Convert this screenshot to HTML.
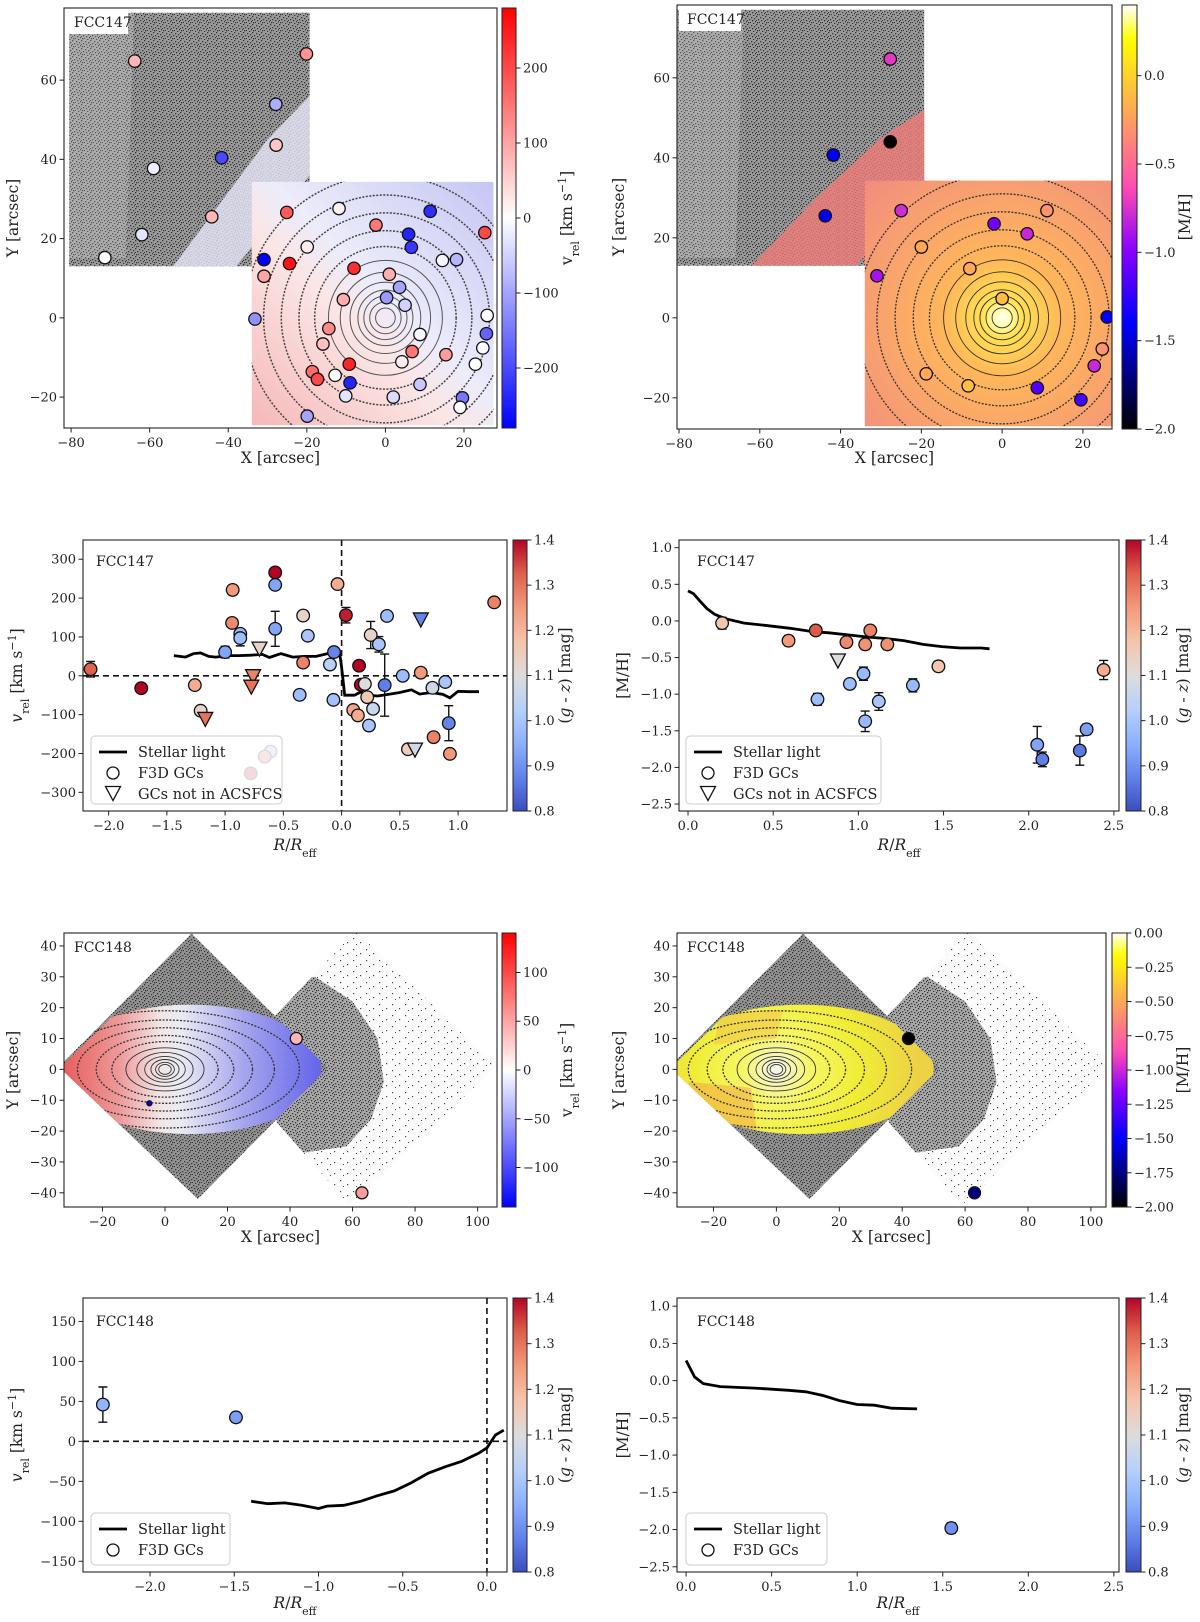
<!DOCTYPE html>
<html><head><meta charset="utf-8"><title>FCC147 / FCC148 GC kinematics and metallicity</title>
<style>
html,body{margin:0;padding:0;background:#fff;}
svg{display:block;font-family:"DejaVu Serif","Liberation Serif",serif;}
</style></head>
<body>
<svg id="fig" xmlns="http://www.w3.org/2000/svg" width="1200" height="1622" viewBox="0 0 1200 1622">
<defs>
<pattern id="dots" width="9" height="8" patternUnits="userSpaceOnUse">
<rect x="0" y="0" width="1.3" height="1.3" fill="#333"/><rect x="4" y="1" width="1.3" height="1.3" fill="#333"/>
<rect x="7" y="2" width="1.3" height="1.3" fill="#333"/><rect x="2" y="3" width="1.3" height="1.3" fill="#333"/>
<rect x="5" y="4" width="1.3" height="1.3" fill="#333"/><rect x="8" y="5" width="1" height="1.3" fill="#333"/>
<rect x="1" y="6" width="1.3" height="1.3" fill="#333"/><rect x="6" y="7" width="1.3" height="1" fill="#333"/>
<rect x="3" y="6" width="1" height="1" fill="#333"/><rect x="0" y="4" width="1" height="1" fill="#333"/>
</pattern>
<pattern id="sparse" width="13" height="11" patternUnits="userSpaceOnUse">
<rect x="2" y="3" width="1.2" height="1.2" fill="#444"/><rect x="9" y="7" width="1.2" height="1.2" fill="#444"/>
<rect x="5" y="9" width="1" height="1" fill="#444"/>
</pattern>
</defs>
</svg>
<script>
// ---------------- data ----------------
// Panel 1: FCC147 velocity map GCs
const p1X=[-63.8,-20.1,-27.9,-27.8,-41.7,-59,-44.2,-62,-71.4,-25.1,-11.8,11.4,-2.4,25.3,5.9,6.6,-19.9,-30.9,-24.4,14.5,18.1,-30.9,-8,1,3.6,0.3,-10.7,5,-33.2,25.9,-14.4,25.7,8.8,-15.9,24.8,6.8,15.4,-9.2,4.2,-18.6,-17.3,-12.8,-9,8.8,22.9,-10.1,2,19.6,19,-19.9];
const p1Y=[64.8,66.6,53.9,43.6,40.4,37.7,25.5,21,15.2,26.6,27.6,26.9,23.4,21.5,21.1,17.8,17.9,14.7,13.7,14.5,14.7,10.5,12.5,11,7.7,5.1,4.6,3.2,-0.3,0.6,-2.7,-4,-4.2,-6.6,-7.6,-8.5,-9.3,-11.7,-11.1,-13.6,-15.5,-14.5,-16.4,-16.8,-11.7,-19.7,-20,-20.2,-22.6,-24.8];
const p1V=[80,120,-90,60,-200,-20,80,-30,5,180,15,-230,150,200,-240,-220,20,-280,260,-10,-80,100,230,90,-100,-110,90,-50,-120,0,130,-170,-10,70,-5,150,110,240,20,160,200,0,-240,-60,0,-30,-40,-150,0,-100];
const p1Ticks=[-200,-100,0,100,200];
// Panel 2: FCC147 metallicity map GCs
const p2X=[-27.7,-27.7,-41.8,-43.8,-25,-2,6.2,11.1,-20,-31,-8,0,26,24.8,22.8,-18.8,-8.4,8.7,19.5];
const p2Y=[64.7,44,40.7,25.5,26.8,23.5,21,26.8,17.7,10.5,12.3,4.8,0.2,-7.8,-12,-14,-17,-17.5,-20.5];
const p2M=[-0.72,-2.0,-1.4,-1.45,-0.78,-1.05,-0.8,-0.3,-0.2,-0.9,-0.2,-0.1,-1.4,-0.3,-0.8,-0.2,-0.1,-1.15,-1.2];
const p2Ticks=[-2.0,-1.5,-1.0,-0.5,0.0];
// Panel 3: FCC147 v_rel vs R
const p3R=[-2.155,-1.72,-1.26,-1.21,-0.935,-0.94,-0.87,-0.87,-1.0,-0.57,-0.57,-0.57,-0.61,-0.66,-0.78,-0.33,-0.29,-0.33,-0.36,-0.065,-0.10,-0.07,-0.035,0.037,0.15,0.165,0.20,0.25,0.32,0.37,0.39,0.22,0.27,0.235,0.10,0.14,0.525,0.68,0.78,0.89,0.92,0.79,0.93,0.57,1.31];
const p3V=[17,-32,-24,-90,221,136,108,97,61,266,234,121,-195,-208,-251,155,103,34,-49,61,29,-62,236,156,26,-23,-21,105,81,-24,154,-55,-85,-128,-88,-102,0,8,-31,-16,-122,-158,-201,-189,189];
const p3Err=[20,0,0,12,12,0,0,20,15,0,10,45,0,0,12,0,0,0,12,0,0,0,0,20,0,0,0,35,20,80,0,0,0,0,0,0,0,0,12,0,45,8,0,0,8];
const p3GZ=[1.32,1.4,1.22,1.13,1.25,1.27,0.98,0.98,0.93,1.4,0.93,0.93,0.92,1.33,1.4,1.13,1.0,1.28,0.98,0.88,1.03,0.99,1.22,1.38,1.4,1.4,1.1,1.13,1.0,0.87,0.98,1.16,1.06,1.0,1.23,1.22,0.98,1.25,1.07,1.0,0.88,1.28,1.25,1.15,1.28];
const p3TriR=[-0.705,-0.76,-0.775,-1.17,0.68,0.63];
const p3TriV=[70,-1,-28,-111,145,-190];
const p3TriGZ=[1.13,1.28,1.3,1.3,0.88,1.08];
const p3LineR=[-1.44,-1.34,-1.27,-1.21,-1.14,-1.08,-0.98,-0.88,-0.78,-0.68,-0.62,-0.52,-0.42,-0.32,-0.22,-0.12,-0.055,-0.016,0.0,0.027,0.11,0.17,0.21,0.31,0.40,0.50,0.60,0.67,0.77,0.87,0.93,1.0,1.10,1.18];
const p3LineV=[52,48,57,59,50,48,52,52,53,55,47,57,48,50,50,57,61,57,22,-50,-50,-41,-50,-52,-48,-43,-36,-47,-43,-48,-57,-40,-41,-41];
const p3XTicks=[-2.0,-1.5,-1.0,-0.5,0.0,0.5,1.0];
const p3YTicks=[-300,-200,-100,0,100,200,300];
// Panel 4: FCC147 [M/H] vs R
const p4R=[0.20,0.59,0.75,0.93,1.07,1.04,1.17,1.47,0.76,0.95,1.03,1.04,1.12,1.32,2.05,2.08,2.30,2.34,2.44];
const p4M=[-0.03,-0.27,-0.13,-0.29,-0.13,-0.32,-0.32,-0.62,-1.07,-0.86,-0.72,-1.37,-1.10,-0.88,-1.69,-1.89,-1.77,-1.48,-0.67];
const p4Err=[0.08,0.07,0.05,0.04,0,0.07,0.07,0.07,0.08,0,0.09,0.14,0.12,0.09,0.25,0.1,0.2,0.07,0.13];
const p4GZ=[1.17,1.25,1.33,1.27,1.28,1.26,1.26,1.17,0.98,0.98,0.97,0.97,1.0,0.97,0.93,0.87,0.86,0.92,1.22];
const p4TriR=[0.88];
const p4TriM=[-0.54];
const p4TriGZ=[1.1];
const p4LineR=[0,0.033,0.067,0.11,0.156,0.22,0.33,0.45,0.60,0.74,0.82,0.94,1.05,1.16,1.27,1.38,1.49,1.60,1.72,1.77];
const p4LineM=[0.41,0.37,0.28,0.17,0.09,0.03,-0.03,-0.06,-0.10,-0.15,-0.16,-0.19,-0.22,-0.24,-0.27,-0.32,-0.35,-0.37,-0.37,-0.38];
const p4XTicks=[0.0,0.5,1.0,1.5,2.0,2.5];
const p4YTicks=[-2.5,-2.0,-1.5,-1.0,-0.5,0.0,0.5,1.0];
const gzTicks=[0.8,0.9,1.0,1.1,1.2,1.3,1.4];
// Panel 5/6: FCC148 maps
const p5X=[42,63,-5];
const p5Y=[10,-40,-11];
const p5V=[40,55,-150];
const p5R=[6,6,2.5];
const p6X=[42,63];
const p6Y=[10,-40];
const p6M=[-2.0,-1.75];
const p5Ticks=[-100,-50,0,50,100];
const p6Ticks=[-2.0,-1.75,-1.5,-1.25,-1.0,-0.75,-0.5,-0.25,0.0];
// Panel 7: FCC148 v_rel vs R
const p7R=[-2.28,-1.49];
const p7V=[46,30];
const p7Err=[22,6];
const p7GZ=[0.96,0.92];
const p7LineR=[-1.4,-1.3,-1.2,-1.1,-1.0,-0.95,-0.85,-0.75,-0.65,-0.55,-0.45,-0.35,-0.25,-0.15,-0.05,0.0,0.05,0.1];
const p7LineV=[-75,-78,-77,-80,-84,-81,-80,-75,-68,-62,-52,-40,-32,-25,-15,-8,8,14];
const p7XTicks=[-2.0,-1.5,-1.0,-0.5,0.0];
const p7YTicks=[-150,-100,-50,0,50,100,150];
// Panel 8: FCC148 [M/H] vs R
const p8R=[1.55];
const p8M=[-1.98];
const p8Err=[0.07];
const p8GZ=[0.9];
const p8LineR=[0,0.05,0.1,0.2,0.4,0.6,0.7,0.8,0.9,1.0,1.1,1.2,1.35];
const p8LineM=[0.27,0.05,-0.04,-0.08,-0.10,-0.13,-0.15,-0.20,-0.27,-0.32,-0.33,-0.37,-0.38];

// ---------------- helpers ----------------
const NS='http://www.w3.org/2000/svg';
const svg=document.getElementById('fig');
const defs=svg.querySelector('defs');
function el(tag,attrs,parent){const e=document.createElementNS(NS,tag);for(const k in attrs)e.setAttribute(k,attrs[k]);(parent||svg).appendChild(e);return e;}
function nm(e,name,inter){


return e;}
function cl(t){return Math.max(0,Math.min(1,t));}
function rgb(r,g,b){return `rgb(${Math.round(r)},${Math.round(g)},${Math.round(b)})`;}
function bwr(v,vmax){const t=cl((v+vmax)/(2*vmax));return t<0.5?rgb(510*t,510*t,255):rgb(255,510*(1-t),510*(1-t));}
function gnu2(v,vmin,vmax){const x=cl((v-vmin)/(vmax-vmin));const r=cl(x/0.32-0.78125),g=cl(2*x-0.84);let b=x<0.25?4*x:(x<0.92?-2*x+1.84:x/0.08-11.5);return rgb(255*r,255*g,255*cl(b));}
const CW=[[0,59,76,192],[0.125,98,130,234],[0.25,141,176,254],[0.375,184,208,249],[0.5,221,220,220],[0.625,245,196,173],[0.75,244,154,123],[0.875,222,96,77],[1,180,4,38]];
function cw(v){const t=cl((v-0.8)/0.6);for(let i=1;i<CW.length;i++){if(t<=CW[i][0]){const a=CW[i-1],b=CW[i],f=(t-a[0])/(b[0]-a[0]);return rgb(a[1]+f*(b[1]-a[1]),a[2]+f*(b[2]-a[2]),a[3]+f*(b[3]-a[3]));}}return rgb(180,4,38);}
function fmt(v,d){return (v<0?'\u2212':'')+Math.abs(v).toFixed(d);}
function panel(p){
p.sx=v=>p.bx+(v-p.xr[0])/(p.xr[1]-p.xr[0])*p.bw;
p.sy=v=>p.by+p.bh-(v-p.yr[0])/(p.yr[1]-p.yr[0])*p.bh;
const cp=el('clipPath',{id:'clip'+p.id},defs);
el('rect',{x:p.bx,y:p.by,width:p.bw,height:p.bh},cp);
p.g=el('g',{'clip-path':`url(#clip${p.id})`});
nm(p.g,p.name+'-plot-area',false);
return p;}
function txt(x,y,s,o,parent){const t=el('text',Object.assign({x:x,y:y,'font-size':13,fill:'#222'},o||{}),parent);t.innerHTML=s;return t;}
function axes(p,xt,xd,yt,yd,xlab,ylab,xly,ylx){
const fr=el('rect',{x:p.bx,y:p.by,width:p.bw,height:p.bh,fill:'none',stroke:'#222','stroke-width':1.1});
nm(fr,p.name+'-frame',false);
const gx=el('g',{});
nm(gx,p.name+'-x-axis',false);
xt.forEach(v=>{const X=p.sx(v);el('line',{x1:X,x2:X,y1:p.by+p.bh,y2:p.by+p.bh+4.5,stroke:'#222'},gx);
const t=txt(X,p.by+p.bh+19,fmt(v,xd),{'text-anchor':'middle'},gx);
nm(t,'x-tick-label',false);});
const gy=el('g',{});
nm(gy,p.name+'-y-axis',false);
yt.forEach(v=>{const Y=p.sy(v);el('line',{x1:p.bx-4.5,x2:p.bx,y1:Y,y2:Y,stroke:'#222'},gy);
const t=txt(p.bx-7,Y+4.5,fmt(v,yd),{'text-anchor':'end'},gy);
nm(t,'y-tick-label',false);});
const xl=txt(p.bx+p.bw/2,xly,xlab,{'text-anchor':'middle','font-size':15.5});
nm(xl,'x-axis-title',false);
const yl=txt(ylx,p.by+p.bh/2,ylab,{'text-anchor':'middle','font-size':15.5,transform:`rotate(-90 ${ylx} ${p.by+p.bh/2})`});
nm(yl,'y-axis-title',false);}
let gid=0;
function cbar(name,x,y,w,h,fn,vmin,vmax,ticks,dec,label,lx){
const gr=el('linearGradient',{id:'cg'+(++gid),x1:0,y1:1,x2:0,y2:0},defs);
for(let i=0;i<=40;i++){el('stop',{offset:i/40,'stop-color':fn(vmin+(vmax-vmin)*i/40)},gr);}
const g=el('g',{});
nm(g,name,false);
el('rect',{x:x,y:y,width:w,height:h,fill:`url(#cg${gid})`,stroke:'#222','stroke-width':1},g);
ticks.forEach(v=>{const Y=y+h-(v-vmin)/(vmax-vmin)*h;el('line',{x1:x+w,x2:x+w+4.5,y1:Y,y2:Y,stroke:'#222'},g);
const t=txt(x+w+7,Y+4.5,fmt(v,dec),{},g);
nm(t,'colorbar-tick-label',false);});
const yc=y+h/2;
const l=txt(lx,yc,label,{'text-anchor':'middle','font-size':15.5,transform:`rotate(-90 ${lx} ${yc})`},g);
nm(l,'colorbar-title',false);}
function circ(g,x,y,r,fill,name){const c=el('circle',{cx:x,cy:y,r:r,fill:fill,stroke:'#111','stroke-width':1.3},g);
nm(c,name,false);return c;}
function tri(g,x,y,fill,name){const t=el('polygon',{points:`${x-7.5},${y-6.5} ${x+7.5},${y-6.5} ${x},${y+7.5}`,fill:fill,stroke:'#111','stroke-width':1.3},g);
nm(t,name,false);return t;}
function errbar(g,x,y1,y2){const e=el('path',{d:`M${x},${y1}V${y2}M${x-4.5},${y1}h9M${x-4.5},${y2}h9`,stroke:'#111','stroke-width':1.4,fill:'none'},g);
nm(e,'error-bar',false);}
function poly(p,xs,ys){return xs.map((x,i)=>`${i?'L':'M'}${p.sx(x).toFixed(1)},${p.sy(ys[i]).toFixed(1)}`).join('')+'Z';}
function path(p,xs,ys){return xs.map((x,i)=>`${i?'L':'M'}${p.sx(x).toFixed(1)},${p.sy(ys[i]).toFixed(1)}`).join('');}
function labelBox(x,y,w,s,name){const g=el('g',{});
nm(g,name,false);
el('rect',{x:x,y:y,width:w,height:24,fill:'#fff'},g);txt(x+8,y+17,s,{'font-size':14},g);}
function legend(x,y,w,h,tri3){const g=el('g',{});
nm(g,'legend',false);
el('rect',{x:x,y:y,width:w,height:h,rx:4,fill:'#fff','fill-opacity':0.85,stroke:'#ccc'},g);
const e1=el('line',{x1:x+8,x2:x+36,y1:y+16,y2:y+16,stroke:'#000','stroke-width':2.8},g);
nm(e1,'legend-entry-stellar-light',false);
txt(x+47,y+21,'Stellar light',{'font-size':14.5},g);
el('circle',{cx:x+22,cy:y+37,r:6,fill:'#fff',stroke:'#111','stroke-width':1.3},g);
txt(x+47,y+42,'F3D GCs',{'font-size':14.5},g);
if(tri3){tri(g,x+22,y+57,'#fff','legend-entry-triangle');txt(x+47,y+63,'GCs not in ACSFCS',{'font-size':14.5},g);}}
const vrelLab='v<tspan baseline-shift="sub" font-size="11">rel</tspan> [km s<tspan baseline-shift="super" font-size="11">\u22121</tspan>]';
const vrelLabI='<tspan font-style="italic">v</tspan><tspan baseline-shift="sub" font-size="11">rel</tspan> [km s<tspan baseline-shift="super" font-size="11">\u22121</tspan>]';
const gzLab='(<tspan font-style="italic">g</tspan> - <tspan font-style="italic">z</tspan>) [mag]';
const rLab='<tspan font-style="italic">R</tspan>/<tspan font-style="italic">R</tspan><tspan baseline-shift="sub" font-size="11">eff</tspan>';
function blockClip(p){const c=el('clipPath',{id:'blk'+p.id},defs);el('path',{d:poly(p,[-34,27.5,27.5,-34],[-27.1,-27.1,34.3,34.3])},c);return el('g',{'clip-path':`url(#blk${p.id})`},p.g);}

// ---------------- Panel 1: FCC147 velocity map ----------------
const P1=panel({id:1,name:'fcc147-velocity-map',bx:64,by:8,bw:433,bh:420,xr:[-81.8,28.4],yr:[-27.8,78.2]});
(function(){const p=P1,g=p.g;
const up=el('path',{d:poly(p,[-80.5,-19.3,-19.3,-80.5],[13,13,77,77]),fill:'#9a9a9a'},g);nm(up,'stellar-density-region',false);
el('path',{d:poly(p,[-80.5,-19.3,-19.3,-80.5],[13,13,77,77]),fill:'url(#dots)'},g);
el('path',{d:poly(p,[-80.5,-66,-64,-80.5],[15,15,77,77]),fill:'#fff','fill-opacity':0.18},g);
el('path',{d:poly(p,[-54,-38,-19.3,-19.3,-30],[13,13,36,56,45]),fill:'#e6e6f8','fill-opacity':0.8},g);
const gr=el('linearGradient',{id:'vf1',gradientUnits:'userSpaceOnUse',x1:p.sx(-34),y1:p.sy(-27),x2:p.sx(27),y2:p.sy(34)},defs);
[[0,'#f6b8b8'],[0.42,'#fbe6e6'],[0.55,'#ececfb'],[1,'#c6c6f4']].forEach(s=>el('stop',{offset:s[0],'stop-color':s[1]},gr));
const lf=el('path',{d:poly(p,[-34,27.5,27.5,-34],[-27.1,-27.1,34.3,34.3]),fill:'url(#vf1)'},g);nm(lf,'velocity-field',false);
const bg=blockClip(p);
[2.5,4,5.5,7,9,11.5,14.5,18,22,26.5,31,36].forEach((r,i)=>{const c=el('ellipse',{cx:p.sx(0),cy:p.sy(0),rx:r*p.bw/110.2,ry:r*p.bh/106,fill:'none',stroke:i<7?'#555':'#444','stroke-width':i<7?1:1.5,'stroke-dasharray':i<7?'none':'2 1.5'},bg);nm(c,'isophote-contour',false);});
p1X.forEach((x,i)=>circ(g,p.sx(x),p.sy(p1Y[i]),6.2,bwr(p1V[i],280),'gc-marker'));
})();
labelBox(66,10,62,'FCC147','galaxy-label');
axes(P1,[-80,-60,-40,-20,0,20],0,[-20,0,20,40,60],0,'X [arcsec]','Y [arcsec]',463,18);
cbar('velocity-colorbar',502,8,14,420,v=>bwr(v,280),-280,280,p1Ticks,0,vrelLab,572);

// ---------------- Panel 2: FCC147 metallicity map ----------------
const P2=panel({id:2,name:'fcc147-metallicity-map',bx:677,by:5,bw:435,bh:424,xr:[-80.5,27.2],yr:[-27.8,78.2]});
(function(){const p=P2,g=p.g;
const up=el('path',{d:poly(p,[-80.5,-19.3,-19.3,-80.5],[13,13,77,77]),fill:'#9a9a9a'},g);nm(up,'stellar-density-region',false);
el('path',{d:poly(p,[-80.5,-19.3,-19.3,-80.5],[13,13,77,77]),fill:'url(#dots)'},g);
el('path',{d:poly(p,[-80.5,-66,-64,-80.5],[15,15,77,77]),fill:'#fff','fill-opacity':0.18},g);
el('path',{d:poly(p,[-62,-36,-19.3,-19.3,-30,-46],[13,13,34,52,45,30]),fill:'#f07c78','fill-opacity':0.8},g);
const gr=el('radialGradient',{id:'mf2',gradientUnits:'userSpaceOnUse',cx:p.sx(0),cy:p.sy(0),r:200},defs);
[[0,'#ffffff'],[0.04,'#ffffb0'],[0.1,'#ffe050'],[0.3,'#ffb65a'],[0.65,'#f8a070'],[1,'#f08a80']].forEach(s=>el('stop',{offset:s[0],'stop-color':s[1]},gr));
const lf=el('path',{d:poly(p,[-34,27.5,27.5,-34],[-27.1,-27.1,34.3,34.3]),fill:'url(#mf2)'},g);nm(lf,'metallicity-field',false);
const bg=blockClip(p);
[2.5,4,5.5,7,9,11.5,14.5,18,22,26.5,31,36].forEach((r,i)=>{const c=el('ellipse',{cx:p.sx(0),cy:p.sy(0),rx:r*p.bw/107.7,ry:r*p.bh/106,fill:'none',stroke:'#333','stroke-width':i<7?0.9:1.3,'stroke-dasharray':i<7?'none':'2 1.5'},bg);nm(c,'isophote-contour',false);});
p2X.forEach((x,i)=>circ(g,p.sx(x),p.sy(p2Y[i]),6.2,gnu2(p2M[i],-2,0.4),'gc-marker'));
})();
labelBox(679,7,62,'FCC147','galaxy-label');
axes(P2,[-80,-60,-40,-20,0,20],0,[-20,0,20,40,60],0,'X [arcsec]','Y [arcsec]',463,624);
cbar('metallicity-colorbar',1122,5,15,424,v=>gnu2(v,-2,0.4),-2,0.4,p2Ticks,1,'[M/H]',1190);

// ---------------- Panel 3: FCC147 v_rel vs R ----------------
const P3=panel({id:3,name:'fcc147-velocity-profile',bx:83,by:540,bw:424,bh:271,xr:[-2.22,1.42],yr:[-348,349.5]});
(function(){const p=P3,g=p.g;
el('line',{x1:p.bx,x2:p.bx+p.bw,y1:p.sy(0),y2:p.sy(0),stroke:'#111','stroke-width':1.6,'stroke-dasharray':'6 4'},g);
el('line',{x1:p.sx(0),x2:p.sx(0),y1:p.by,y2:p.by+p.bh,stroke:'#111','stroke-width':1.6,'stroke-dasharray':'6 4'},g);
const ln=el('path',{d:path(p,p3LineR,p3LineV),fill:'none',stroke:'#000','stroke-width':2.8},g);nm(ln,'stellar-light-line',false);
p3R.forEach((r,i)=>{if(p3Err[i])errbar(g,p.sx(r),p.sy(p3V[i]+p3Err[i]),p.sy(p3V[i]-p3Err[i]));});
p3R.forEach((r,i)=>circ(g,p.sx(r),p.sy(p3V[i]),6.3,cw(p3GZ[i]),'gc-point'));
p3TriR.forEach((r,i)=>tri(g,p.sx(r),p.sy(p3TriV[i]),cw(p3TriGZ[i]),'gc-triangle'));
})();
txt(96,566,'FCC147',{'font-size':14});
legend(91,736,191,68,true);
axes(P3,p3XTicks,1,p3YTicks,0,rLab,vrelLabI,850,22);
cbar('gz-colorbar',513,540,14,271,cw,0.8,1.4,gzTicks,1,gzLab,570);

// ---------------- Panel 4: FCC147 [M/H] vs R ----------------
const P4=panel({id:4,name:'fcc147-metallicity-profile',bx:679,by:540,bw:440,bh:271,xr:[-0.053,2.53],yr:[-2.595,1.105]});
(function(){const p=P4,g=p.g;
const ln=el('path',{d:path(p,p4LineR,p4LineM),fill:'none',stroke:'#000','stroke-width':2.8},g);nm(ln,'stellar-light-line',false);
p4R.forEach((r,i)=>{if(p4Err[i])errbar(g,p.sx(r),p.sy(p4M[i]+p4Err[i]),p.sy(p4M[i]-p4Err[i]));});
p4R.forEach((r,i)=>circ(g,p.sx(r),p.sy(p4M[i]),6.3,cw(p4GZ[i]),'gc-point'));
p4TriR.forEach((r,i)=>tri(g,p.sx(r),p.sy(p4TriM[i]),cw(p4TriGZ[i]),'gc-triangle'));
})();
txt(697,566,'FCC147',{'font-size':14});
legend(686,736,195,68,true);
axes(P4,p4XTicks,1,p4YTicks,1,rLab,'[M/H]',850,628);
cbar('gz-colorbar',1126,540,15,271,cw,0.8,1.4,gzTicks,1,gzLab,1188);

// ---------------- FCC148 maps common ----------------
function fcc148Base(p,fieldFill,name){const g=p.g;
const d2=el('path',{d:poly(p,[20,61,106,59],[1,45,1,-44]),fill:'#fbfbfb'},g);nm(d2,'sparse-stellar-region',false);
el('path',{d:poly(p,[20,61,106,59],[1,45,1,-44]),fill:'url(#sparse)'},g);
const cp=el('clipPath',{id:'dia'+p.id},defs);el('path',{d:poly(p,[20,61,106,59],[1,45,1,-44])},cp);
const ch=el('path',{d:poly(p,[34,48,60,68,70,66,58,44,36],[28,30,22,10,-4,-16,-25,-27,-24]),fill:'#a9a9a9','clip-path':`url(#dia${p.id})`},g);nm(ch,'stellar-halo-blob',false);
el('path',{d:poly(p,[34,48,60,68,70,66,58,44,36],[28,30,22,10,-4,-16,-25,-27,-24]),fill:'url(#dots)','clip-path':`url(#dia${p.id})`},g);
const d1=el('path',{d:poly(p,[-34,8.5,52,10.5],[0.8,44,0.5,-42]),fill:'#939393'},g);nm(d1,'dense-stellar-region',false);
el('path',{d:poly(p,[-34,8.5,52,10.5],[0.8,44,0.5,-42]),fill:'url(#dots)'},g);
const dc=el('clipPath',{id:'dl'+p.id},defs);el('path',{d:poly(p,[-34,8.5,52,10.5],[0.8,44,0.5,-42])},dc);
const fc=el('clipPath',{id:'fld'+p.id},defs);
el('ellipse',{cx:p.sx(8),cy:p.sy(0),rx:42*p.bw/(p.xr[1]-p.xr[0]),ry:21*p.bh/(p.yr[1]-p.yr[0])},fc);
const outer=el('g',{'clip-path':`url(#dl${p.id})`},g);
const fg=el('g',{'clip-path':`url(#fld${p.id})`},outer);
const f=el('path',{d:poly(p,[-34,10,54,10],[0,44,0,-44]),fill:fieldFill,'fill-opacity':0.93},fg);nm(f,name,false);
return fg;}
function contours148(p,fg){[[2,1.6],[3,2.3],[4.5,3.2],[6.5,4.2],[9,5.5],[12.5,7],[17,9],[22,11],[28,13.5],[35,16],[43,19]].forEach((e,i)=>{const c=el('ellipse',{cx:p.sx(0),cy:p.sy(0),rx:e[0]*p.bw/(p.xr[1]-p.xr[0]),ry:e[1]*p.bh/(p.yr[1]-p.yr[0]),fill:'none',stroke:'#333','stroke-width':i<6?0.9:1.3,'stroke-dasharray':i<6?'none':'2 1.5'},fg);nm(c,'isophote-contour',false);});}

// ---------------- Panel 5 ----------------
const P5=panel({id:5,name:'fcc148-velocity-map',bx:64,by:933,bw:433,bh:274,xr:[-32.3,106.2],yr:[-44.6,44.2]});
(function(){const p=P5;
const gr=el('linearGradient',{id:'vf5',gradientUnits:'userSpaceOnUse',x1:p.sx(-33),y1:0,x2:p.sx(50),y2:0},defs);
[[0,'#f05a5a'],[0.22,'#f59b9b'],[0.38,'#fbeeee'],[0.46,'#f2f2fc'],[0.7,'#a8a8f6'],[1,'#6262f2']].forEach(s=>el('stop',{offset:s[0],'stop-color':s[1]},gr));
const fg=fcc148Base(p,'url(#vf5)','velocity-field');contours148(p,fg);
p5X.forEach((x,i)=>circ(p.g,p.sx(x),p.sy(p5Y[i]),p5R[i],bwr(p5V[i],140.5),'gc-marker'));
})();
labelBox(66,935,62,'FCC148','galaxy-label');
axes(P5,[-20,0,20,40,60,80,100],0,[-40,-30,-20,-10,0,10,20,30,40],0,'X [arcsec]','Y [arcsec]',1242,18);
cbar('velocity-colorbar',502,933,14,274,v=>bwr(v,140.5),-140.5,140.5,p5Ticks,0,vrelLab,572);

// ---------------- Panel 6 ----------------
const P6=panel({id:6,name:'fcc148-metallicity-map',bx:677,by:933,bw:429,bh:274,xr:[-31.6,104.8],yr:[-44.6,44.2]});
(function(){const p=P6;
const gr=el('radialGradient',{id:'mf6',gradientUnits:'userSpaceOnUse',cx:p.sx(0),cy:p.sy(0),r:140},defs);
[[0,'#ffffff'],[0.08,'#ffffc8'],[0.25,'#ffff60'],[0.6,'#f8f530'],[1,'#f5d840']].forEach(s=>el('stop',{offset:s[0],'stop-color':s[1]},gr));
const fg=fcc148Base(p,'url(#mf6)','metallicity-field');
el('path',{d:poly(p,[-28,-8,-6,-24],[-4,-6,-22,-20]),fill:'#f2a845','fill-opacity':0.55},fg);
el('path',{d:poly(p,[-20,0,2,-18],[8,10,19,18]),fill:'#f2b845','fill-opacity':0.45},fg);
contours148(p,fg);
p6X.forEach((x,i)=>circ(p.g,p.sx(x),p.sy(p6Y[i]),6,gnu2(p6M[i],-2,0),'gc-marker'));
})();
labelBox(679,935,62,'FCC148','galaxy-label');
axes(P6,[-20,0,20,40,60,80,100],0,[-40,-30,-20,-10,0,10,20,30,40],0,'X [arcsec]','Y [arcsec]',1242,624);
cbar('metallicity-colorbar',1112,933,15,274,v=>gnu2(v,-2,0),-2,0,p6Ticks,2,'[M/H]',1188);

// ---------------- Panel 7 ----------------
const P7=panel({id:7,name:'fcc148-velocity-profile',bx:83,by:1298,bw:424,bh:274,xr:[-2.398,0.119],yr:[-163.4,179.3]});
(function(){const p=P7,g=p.g;
el('line',{x1:p.bx,x2:p.bx+p.bw,y1:p.sy(0),y2:p.sy(0),stroke:'#111','stroke-width':1.6,'stroke-dasharray':'6 4'},g);
el('line',{x1:p.sx(0),x2:p.sx(0),y1:p.by,y2:p.by+p.bh,stroke:'#111','stroke-width':1.6,'stroke-dasharray':'6 4'},g);
const ln=el('path',{d:path(p,p7LineR,p7LineV),fill:'none',stroke:'#000','stroke-width':2.8},g);nm(ln,'stellar-light-line',false);
p7R.forEach((r,i)=>{if(p7Err[i])errbar(g,p.sx(r),p.sy(p7V[i]+p7Err[i]),p.sy(p7V[i]-p7Err[i]));});
p7R.forEach((r,i)=>circ(g,p.sx(r),p.sy(p7V[i]),6.3,cw(p7GZ[i]),'gc-point'));
})();
txt(96,1326,'FCC148',{'font-size':14});
legend(91,1513,139,52,false);
axes(P7,p7XTicks,1,p7YTicks,0,rLab,vrelLabI,1608,22);
cbar('gz-colorbar',513,1298,14,274,cw,0.8,1.4,gzTicks,1,gzLab,570);

// ---------------- Panel 8 ----------------
const P8=panel({id:8,name:'fcc148-metallicity-profile',bx:677,by:1298,bw:442,bh:274,xr:[-0.053,2.53],yr:[-2.57,1.11]});
(function(){const p=P8,g=p.g;
const ln=el('path',{d:path(p,p8LineR,p8LineM),fill:'none',stroke:'#000','stroke-width':2.8},g);nm(ln,'stellar-light-line',false);
p8R.forEach((r,i)=>{if(p8Err[i])errbar(g,p.sx(r),p.sy(p8M[i]+p8Err[i]),p.sy(p8M[i]-p8Err[i]));});
p8R.forEach((r,i)=>circ(g,p.sx(r),p.sy(p8M[i]),6.3,cw(p8GZ[i]),'gc-point'));
})();
txt(697,1326,'FCC148',{'font-size':14});
legend(686,1513,141,52,false);
axes(P8,p4XTicks,1,p4YTicks,1,rLab,'[M/H]',1608,628);
cbar('gz-colorbar',1126,1298,15,274,cw,0.8,1.4,gzTicks,1,gzLab,1188);
</script>
</body></html>
